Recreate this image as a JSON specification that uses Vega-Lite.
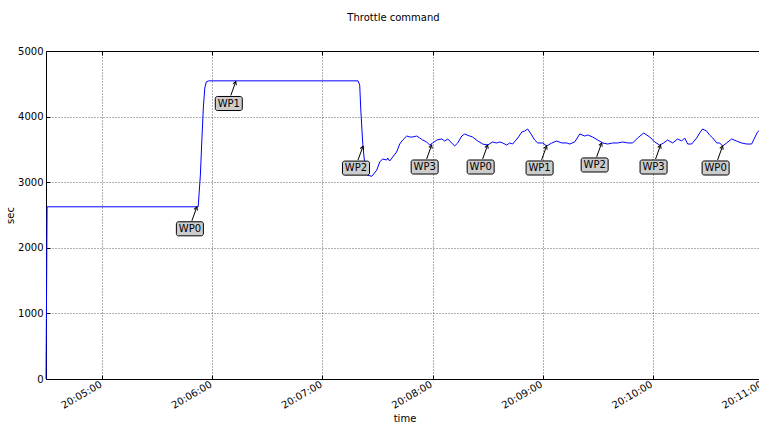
{
  "$schema": "https://vega.github.io/schema/vega-lite/v6.json",
  "width": 713,
  "height": 328,
  "autosize": {"type": "none"},
  "padding": {"left": 46, "top": 51, "right": 0, "bottom": 45},
  "background": "white",
  "title": {
    "text": "Throttle command",
    "font": "DejaVu Sans",
    "fontSize": 10,
    "fontWeight": "normal",
    "color": "black",
    "offset": 23,
    "dx": -9
  },
  "config": {
    "view": {"stroke": null},
    "font": "DejaVu Sans",
    "axis": {
      "domainColor": "black",
      "domainWidth": 1,
      "tickColor": "black",
      "tickSize": -4,
      "tickWidth": 1,
      "labelFont": "DejaVu Sans",
      "labelFontSize": 10,
      "labelColor": "black",
      "titleFont": "DejaVu Sans",
      "titleFontSize": 10,
      "titleFontWeight": "normal",
      "titleColor": "black",
      "gridColor": "#222222",
      "gridDash": [1, 2],
      "gridOpacity": 0.9,
      "gridWidth": 0.8,
      "labelOverlap": false,
      "labelFlush": false,
      "labelBound": false
    }
  },
  "datasets": {
    "throttle": [
      {"time": "2013-06-01T20:04:29.400", "value": 0},
      {"time": "2013-06-01T20:04:30.000", "value": 2625},
      {"time": "2013-06-01T20:05:52.300", "value": 2625},
      {"time": "2013-06-01T20:05:53.500", "value": 3110},
      {"time": "2013-06-01T20:05:54.300", "value": 3640},
      {"time": "2013-06-01T20:05:55.100", "value": 4130},
      {"time": "2013-06-01T20:05:55.900", "value": 4435},
      {"time": "2013-06-01T20:05:56.700", "value": 4530},
      {"time": "2013-06-01T20:05:58.100", "value": 4545},
      {"time": "2013-06-01T20:07:19.400", "value": 4545},
      {"time": "2013-06-01T20:07:20.300", "value": 4480},
      {"time": "2013-06-01T20:07:20.900", "value": 4100},
      {"time": "2013-06-01T20:07:22.000", "value": 3570},
      {"time": "2013-06-01T20:07:23.100", "value": 3260},
      {"time": "2013-06-01T20:07:24.200", "value": 3110},
      {"time": "2013-06-01T20:07:26.900", "value": 3090},
      {"time": "2013-06-01T20:07:29.600", "value": 3186},
      {"time": "2013-06-01T20:07:31.200", "value": 3308},
      {"time": "2013-06-01T20:07:32.800", "value": 3354},
      {"time": "2013-06-01T20:07:35.000", "value": 3338},
      {"time": "2013-06-01T20:07:35.500", "value": 3369},
      {"time": "2013-06-01T20:07:36.600", "value": 3323},
      {"time": "2013-06-01T20:07:38.300", "value": 3384},
      {"time": "2013-06-01T20:07:40.400", "value": 3460},
      {"time": "2013-06-01T20:07:42.100", "value": 3582},
      {"time": "2013-06-01T20:07:43.700", "value": 3643},
      {"time": "2013-06-01T20:07:45.900", "value": 3704},
      {"time": "2013-06-01T20:07:47.600", "value": 3689},
      {"time": "2013-06-01T20:07:49.200", "value": 3689},
      {"time": "2013-06-01T20:07:51.300", "value": 3704},
      {"time": "2013-06-01T20:07:53.000", "value": 3674},
      {"time": "2013-06-01T20:07:54.600", "value": 3643},
      {"time": "2013-06-01T20:07:56.800", "value": 3613},
      {"time": "2013-06-01T20:07:58.400", "value": 3567},
      {"time": "2013-06-01T20:08:00.100", "value": 3598},
      {"time": "2013-06-01T20:08:02.300", "value": 3643},
      {"time": "2013-06-01T20:08:05.000", "value": 3659},
      {"time": "2013-06-01T20:08:06.600", "value": 3628},
      {"time": "2013-06-01T20:08:08.300", "value": 3659},
      {"time": "2013-06-01T20:08:10.400", "value": 3598},
      {"time": "2013-06-01T20:08:12.000", "value": 3552},
      {"time": "2013-06-01T20:08:13.700", "value": 3598},
      {"time": "2013-06-01T20:08:15.900", "value": 3704},
      {"time": "2013-06-01T20:08:17.500", "value": 3735},
      {"time": "2013-06-01T20:08:20.200", "value": 3704},
      {"time": "2013-06-01T20:08:21.800", "value": 3689},
      {"time": "2013-06-01T20:08:24.600", "value": 3628},
      {"time": "2013-06-01T20:08:27.300", "value": 3582},
      {"time": "2013-06-01T20:08:30.000", "value": 3567},
      {"time": "2013-06-01T20:08:32.700", "value": 3613},
      {"time": "2013-06-01T20:08:34.900", "value": 3598},
      {"time": "2013-06-01T20:08:36.500", "value": 3613},
      {"time": "2013-06-01T20:08:38.200", "value": 3598},
      {"time": "2013-06-01T20:08:40.400", "value": 3567},
      {"time": "2013-06-01T20:08:42.000", "value": 3598},
      {"time": "2013-06-01T20:08:43.600", "value": 3582},
      {"time": "2013-06-01T20:08:46.400", "value": 3674},
      {"time": "2013-06-01T20:08:48.600", "value": 3765},
      {"time": "2013-06-01T20:08:50.200", "value": 3780},
      {"time": "2013-06-01T20:08:51.800", "value": 3811},
      {"time": "2013-06-01T20:08:54.000", "value": 3720},
      {"time": "2013-06-01T20:08:55.600", "value": 3643},
      {"time": "2013-06-01T20:08:57.300", "value": 3598},
      {"time": "2013-06-01T20:09:00.000", "value": 3598},
      {"time": "2013-06-01T20:09:02.200", "value": 3552},
      {"time": "2013-06-01T20:09:04.900", "value": 3598},
      {"time": "2013-06-01T20:09:07.600", "value": 3628},
      {"time": "2013-06-01T20:09:10.400", "value": 3598},
      {"time": "2013-06-01T20:09:13.100", "value": 3598},
      {"time": "2013-06-01T20:09:14.700", "value": 3582},
      {"time": "2013-06-01T20:09:17.400", "value": 3613},
      {"time": "2013-06-01T20:09:20.200", "value": 3735},
      {"time": "2013-06-01T20:09:22.900", "value": 3704},
      {"time": "2013-06-01T20:09:24.500", "value": 3720},
      {"time": "2013-06-01T20:09:27.200", "value": 3689},
      {"time": "2013-06-01T20:09:30.000", "value": 3643},
      {"time": "2013-06-01T20:09:32.700", "value": 3598},
      {"time": "2013-06-01T20:09:35.400", "value": 3582},
      {"time": "2013-06-01T20:09:38.100", "value": 3598},
      {"time": "2013-06-01T20:09:40.800", "value": 3598},
      {"time": "2013-06-01T20:09:43.600", "value": 3613},
      {"time": "2013-06-01T20:09:46.300", "value": 3598},
      {"time": "2013-06-01T20:09:49.000", "value": 3598},
      {"time": "2013-06-01T20:09:51.700", "value": 3674},
      {"time": "2013-06-01T20:09:55.000", "value": 3750},
      {"time": "2013-06-01T20:09:58.300", "value": 3689},
      {"time": "2013-06-01T20:10:01.000", "value": 3613},
      {"time": "2013-06-01T20:10:03.700", "value": 3567},
      {"time": "2013-06-01T20:10:05.900", "value": 3598},
      {"time": "2013-06-01T20:10:08.000", "value": 3643},
      {"time": "2013-06-01T20:10:10.800", "value": 3598},
      {"time": "2013-06-01T20:10:13.500", "value": 3659},
      {"time": "2013-06-01T20:10:15.700", "value": 3628},
      {"time": "2013-06-01T20:10:17.300", "value": 3674},
      {"time": "2013-06-01T20:10:19.000", "value": 3582},
      {"time": "2013-06-01T20:10:21.100", "value": 3582},
      {"time": "2013-06-01T20:10:23.900", "value": 3674},
      {"time": "2013-06-01T20:10:25.500", "value": 3750},
      {"time": "2013-06-01T20:10:27.100", "value": 3811},
      {"time": "2013-06-01T20:10:29.300", "value": 3780},
      {"time": "2013-06-01T20:10:30.900", "value": 3720},
      {"time": "2013-06-01T20:10:32.600", "value": 3674},
      {"time": "2013-06-01T20:10:34.800", "value": 3598},
      {"time": "2013-06-01T20:10:36.400", "value": 3598},
      {"time": "2013-06-01T20:10:38.000", "value": 3552},
      {"time": "2013-06-01T20:10:40.200", "value": 3598},
      {"time": "2013-06-01T20:10:42.900", "value": 3659},
      {"time": "2013-06-01T20:10:45.600", "value": 3628},
      {"time": "2013-06-01T20:10:48.300", "value": 3598},
      {"time": "2013-06-01T20:10:51.100", "value": 3582},
      {"time": "2013-06-01T20:10:53.800", "value": 3582},
      {"time": "2013-06-01T20:10:55.400", "value": 3674},
      {"time": "2013-06-01T20:10:57.000", "value": 3765},
      {"time": "2013-06-01T20:10:59.700", "value": 3826}
    ],
    "waypoints": [
      {"time": "2013-06-01T20:05:51.600", "value": 2625, "wp": "WP0"},
      {"time": "2013-06-01T20:06:12.800", "value": 4535, "wp": "WP1"},
      {"time": "2013-06-01T20:07:22.100", "value": 3550, "wp": "WP2"},
      {"time": "2013-06-01T20:07:59.500", "value": 3567, "wp": "WP3"},
      {"time": "2013-06-01T20:08:30.000", "value": 3567, "wp": "WP0"},
      {"time": "2013-06-01T20:09:02.100", "value": 3552, "wp": "WP1"},
      {"time": "2013-06-01T20:09:32.100", "value": 3598, "wp": "WP2"},
      {"time": "2013-06-01T20:10:04.200", "value": 3567, "wp": "WP3"},
      {"time": "2013-06-01T20:10:38.000", "value": 3552, "wp": "WP0"}
    ]
  },
  "resolve": {"axis": {"x": "independent"}},
  "layer": [
    {
      "data": {"name": "throttle"},
      "mark": {"type": "line", "color": "#0000ff", "strokeWidth": 1},
      "encoding": {
        "x": {
          "field": "time",
          "type": "temporal",
          "scale": {
            "domain": [
              {"year": 2013, "month": 6, "date": 1, "hours": 20, "minutes": 4, "seconds": 29, "milliseconds": 400},
              {"year": 2013, "month": 6, "date": 1, "hours": 20, "minutes": 11, "seconds": 0}
            ],
            "range": [0, 717]
          },
          "axis": {
            "orient": "bottom",
            "title": "time",
            "titlePadding": 3,
            "format": "%H:%M:%S",
            "labelAngle": -30,
            "labelAlign": "right",
            "labelBaseline": "top",
            "labelPadding": 4,
            "labelOffset": -4,
            "grid": true,
            "values": [
              {"year": 2013, "month": 6, "date": 1, "hours": 20, "minutes": 5},
              {"year": 2013, "month": 6, "date": 1, "hours": 20, "minutes": 6},
              {"year": 2013, "month": 6, "date": 1, "hours": 20, "minutes": 7},
              {"year": 2013, "month": 6, "date": 1, "hours": 20, "minutes": 8},
              {"year": 2013, "month": 6, "date": 1, "hours": 20, "minutes": 9},
              {"year": 2013, "month": 6, "date": 1, "hours": 20, "minutes": 10},
              {"year": 2013, "month": 6, "date": 1, "hours": 20, "minutes": 11}
            ]
          }
        },
        "y": {
          "field": "value",
          "type": "quantitative",
          "scale": {"domain": [0, 5000], "nice": false, "zero": false},
          "axis": {
            "title": "sec",
            "titlePadding": 2,
            "labelPadding": 7,
            "format": "d",
            "grid": true,
            "values": [0, 1000, 2000, 3000, 4000, 5000]
          }
        }
      }
    },
    {
      "data": {"name": "waypoints"},
      "mark": {"type": "rule", "color": "black", "strokeWidth": 1, "x2Offset": -5, "y2Offset": 14},
      "encoding": {
        "x": {
          "field": "time",
          "type": "temporal",
          "axis": {
            "orient": "top",
            "title": null,
            "labels": false,
            "grid": false,
            "values": [
              {"year": 2013, "month": 6, "date": 1, "hours": 20, "minutes": 5},
              {"year": 2013, "month": 6, "date": 1, "hours": 20, "minutes": 6},
              {"year": 2013, "month": 6, "date": 1, "hours": 20, "minutes": 7},
              {"year": 2013, "month": 6, "date": 1, "hours": 20, "minutes": 8},
              {"year": 2013, "month": 6, "date": 1, "hours": 20, "minutes": 9},
              {"year": 2013, "month": 6, "date": 1, "hours": 20, "minutes": 10},
              {"year": 2013, "month": 6, "date": 1, "hours": 20, "minutes": 11}
            ]
          }
        },
        "y": {"field": "value", "type": "quantitative"},
        "x2": {"field": "time"},
        "y2": {"field": "value"}
      }
    },
    {
      "data": {"name": "waypoints"},
      "mark": {
        "type": "point",
        "shape": "M -0.6 1.1 L 0 0 L 0.6 1.1",
        "filled": false,
        "stroke": "black",
        "strokeWidth": 1,
        "opacity": 1,
        "size": 36,
        "angle": 20
      },
      "encoding": {
        "x": {"field": "time", "type": "temporal", "axis": null},
        "y": {"field": "value", "type": "quantitative"}
      }
    },
    {
      "data": {"name": "waypoints"},
      "mark": {
        "type": "point",
        "shape": "M -0.85 -0.52 L 0.85 -0.52 A 0.15 0.15 0 0 1 1 -0.37 L 1 0.37 A 0.15 0.15 0 0 1 0.85 0.52 L -0.85 0.52 A 0.15 0.15 0 0 1 -1 0.37 L -1 -0.37 A 0.15 0.15 0 0 1 -0.85 -0.52 Z",
        "filled": true,
        "fill": "#cccccc",
        "stroke": "black",
        "strokeWidth": 1,
        "opacity": 1,
        "size": 729,
        "xOffset": -7,
        "yOffset": 22
      },
      "encoding": {
        "x": {"field": "time", "type": "temporal", "axis": null},
        "y": {"field": "value", "type": "quantitative"}
      }
    },
    {
      "data": {"name": "waypoints"},
      "mark": {
        "type": "text",
        "font": "DejaVu Sans",
        "fontSize": 10,
        "color": "black",
        "align": "center",
        "baseline": "middle",
        "dx": -7,
        "dy": 22
      },
      "encoding": {
        "x": {"field": "time", "type": "temporal", "axis": null},
        "y": {"field": "value", "type": "quantitative"},
        "text": {"field": "wp"}
      }
    }
  ]
}
